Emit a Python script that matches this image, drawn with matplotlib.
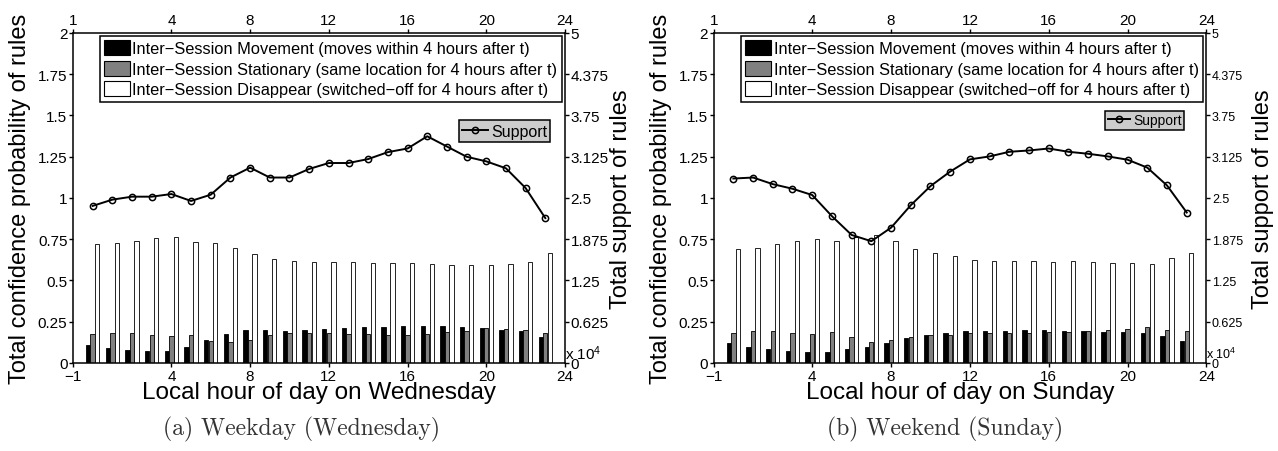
import matplotlib
matplotlib.use("Agg")
import matplotlib.pyplot as plt
import matplotlib.patches as mpatches
import numpy as np

plt.rcParams['font.family'] = ['Liberation Sans', 'DejaVu Sans']
plt.rcParams['mathtext.default'] = 'regular'

hours = list(range(24))

# Wednesday: confidence per rule type and support (x 10^4)
wed_movement = [0.107, 0.091, 0.079, 0.071, 0.073, 0.095, 0.139, 0.177, 0.198, 0.200, 0.194, 0.202,
                0.206, 0.212, 0.220, 0.220, 0.226, 0.226, 0.224, 0.216, 0.210, 0.202, 0.192, 0.155]
wed_stationary = [0.175, 0.183, 0.179, 0.167, 0.163, 0.171, 0.135, 0.127, 0.141, 0.169, 0.183, 0.183,
                  0.183, 0.177, 0.177, 0.171, 0.171, 0.177, 0.187, 0.192, 0.210, 0.208, 0.202, 0.181]
wed_disappear = [0.720, 0.727, 0.740, 0.760, 0.764, 0.734, 0.726, 0.695, 0.659, 0.630, 0.621, 0.613,
                 0.611, 0.611, 0.605, 0.607, 0.605, 0.597, 0.591, 0.591, 0.595, 0.599, 0.615, 0.665]
wed_support = [2.38, 2.475, 2.52, 2.52, 2.56, 2.455, 2.55, 2.81, 2.96, 2.81, 2.81, 2.94,
               3.03, 3.03, 3.09, 3.195, 3.25, 3.435, 3.28, 3.125, 3.055, 2.95, 2.65, 2.195]

# Sunday
sun_movement = [0.121, 0.099, 0.083, 0.075, 0.069, 0.069, 0.085, 0.095, 0.123, 0.149, 0.167, 0.181,
                0.192, 0.196, 0.196, 0.198, 0.200, 0.194, 0.192, 0.190, 0.185, 0.181, 0.161, 0.133]
sun_stationary = [0.181, 0.196, 0.192, 0.179, 0.175, 0.188, 0.157, 0.125, 0.137, 0.155, 0.167, 0.171,
                  0.179, 0.183, 0.183, 0.183, 0.185, 0.188, 0.194, 0.198, 0.206, 0.218, 0.202, 0.194]
sun_disappear = [0.693, 0.699, 0.723, 0.741, 0.753, 0.741, 0.766, 0.776, 0.740, 0.693, 0.667, 0.646,
                 0.625, 0.619, 0.619, 0.617, 0.615, 0.617, 0.613, 0.609, 0.609, 0.601, 0.634, 0.669]
sun_support = [2.795, 2.81, 2.71, 2.64, 2.545, 2.225, 1.94, 1.845, 2.05, 2.39, 2.68, 2.90,
               3.085, 3.13, 3.20, 3.22, 3.25, 3.20, 3.17, 3.13, 3.08, 2.96, 2.69, 2.28]

legend_labels = ['Inter\u2212Session Movement (moves within 4 hours after t)',
                 'Inter\u2212Session Stationary (same location for 4 hours after t)',
                 'Inter\u2212Session Disappear (switched\u2212off for 4 hours after t)']
bar_colors = ['black', '#808080', 'white']

x_ticks = [-1, 4, 8, 12, 16, 20, 24]
bottom_ticklabels = ['\u22121', '4', '8', '12', '16', '20', '24']
top_ticklabels = ['1', '4', '8', '12', '16', '20', '24']
conf_ticks = [0, 0.25, 0.5, 0.75, 1, 1.25, 1.5, 1.75, 2]
conf_ticklabels = ['0', '0.25', '0.5', '0.75', '1', '1.25', '1.5', '1.75', '2']
sup_ticks = [0, 0.625, 1.25, 1.875, 2.5, 3.125, 3.75, 4.375, 5]
sup_ticklabels = ['0', '0.625', '1.25', '1.875', '2.5', '3.125', '3.75', '4.375', '5']


def draw_panel(fig, rect, series, support, day, caption, caption_x, right_fs, sup_fs, sup_anchor):
    ax = fig.add_axes(rect)
    x = np.array(hours)
    offsets = [-0.23, 0.0, 0.23]
    handles = []
    for vals, off, col, lab in zip(series, offsets, bar_colors, legend_labels):
        ax.bar(x + off, vals, width=0.22, color=col, edgecolor='black', linewidth=0.6)
        handles.append(mpatches.Patch(facecolor=col, edgecolor='black', linewidth=0.8, label=lab))
    ax.set_xlim(-1, 24)
    ax.set_ylim(0, 2)
    ax.set_xticks(x_ticks)
    ax.set_xticklabels(bottom_ticklabels)
    ax.set_yticks(conf_ticks)
    ax.set_yticklabels(conf_ticklabels)
    ax.tick_params(direction='out', length=3, width=1, labelsize=11, pad=1, top=False, right=False)
    for sp in ax.spines.values():
        sp.set_linewidth(1.1)
    ax.set_xlabel('Local hour of day on ' + day, fontsize=17.5, labelpad=-1)
    ax.set_ylabel('Total confidence probability of rules', fontsize=17)
    ax.yaxis.set_label_coords(-0.085, 0.5)
    leg = ax.legend(handles=handles, loc='upper right', bbox_to_anchor=(0.993, 0.99),
                    fontsize=11.8, handlelength=1.6, handleheight=1.0, handletextpad=0.15,
                    labelspacing=0.28, borderpad=0.25, borderaxespad=0, fancybox=False,
                    framealpha=1, edgecolor='black')
    leg.get_frame().set_linewidth(1.1)

    # support line on its own overlaid axes (top / right scales)
    ax2 = fig.add_axes(rect, frameon=False)
    ax2.plot(hours, support, color='black', linewidth=1.4, marker='o', markersize=4.5,
             markerfacecolor='none', markeredgewidth=1.1, label='Support')
    ax2.set_xlim(-1, 24)
    ax2.set_ylim(0, 5)
    ax2.xaxis.tick_top()
    ax2.yaxis.tick_right()
    ax2.set_xticks(x_ticks)
    ax2.set_xticklabels(top_ticklabels)
    ax2.set_yticks(sup_ticks)
    ax2.set_yticklabels(sup_ticklabels)
    ax2.tick_params(axis='x', direction='out', length=3, width=1, labelsize=11, pad=1)
    ax2.tick_params(axis='y', direction='out', length=3, width=1, labelsize=right_fs, pad=1)
    ax2.yaxis.set_label_position('right')
    ax2.set_ylabel('Total support of rules', fontsize=17)
    ax2.yaxis.set_label_coords(1.092, 0.5)
    ax2.text(1.0, 0.03, 'x 10$^{4}$', transform=ax2.transAxes, fontsize=right_fs,
             ha='left', va='center')
    leg2 = ax2.legend(loc='upper right', bbox_to_anchor=sup_anchor, fontsize=sup_fs,
                      handlelength=1.6, handletextpad=0.2, borderpad=0.2, borderaxespad=0,
                      fancybox=False, framealpha=1, facecolor='#cccccc', edgecolor='black')
    leg2.get_frame().set_linewidth(1.1)

    fig.text(caption_x, 0.05, caption, fontsize=17, family='cmr10', ha='center', va='center',
             color='#333333')


fig = plt.figure(figsize=(12.78, 4.52), dpi=100)
draw_panel(fig, [0.0571, 0.1947, 0.3850, 0.7301],
           [wed_movement, wed_stationary, wed_disappear], wed_support,
           'Wednesday', '(a) Weekday (Wednesday)', 0.2363, 11, 11.5, (0.97, 0.735))
draw_panel(fig, [0.5584, 0.1947, 0.3856, 0.7301],
           [sun_movement, sun_stationary, sun_disappear], sun_support,
           'Sunday', '(b) Weekend (Sunday)', 0.7394, 9, 10, (0.955, 0.765))

fig.savefig('out.png', dpi=100)
